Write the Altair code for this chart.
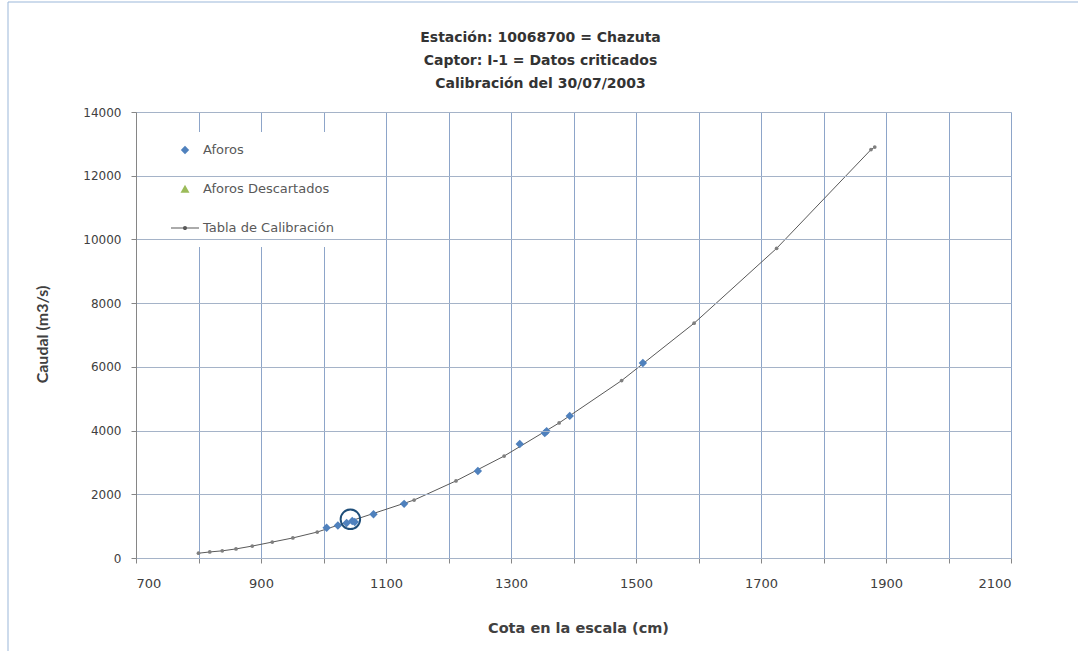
import altair as alt
import pandas as pd

# ---- data ----
calib_cota = [800, 818, 838, 860, 886, 918, 951, 990, 1145, 1212, 1289, 1377, 1477, 1593, 1725, 1876, 1882]
calib_caudal = [150, 190, 225, 285, 375, 500, 630, 815, 1820, 2420, 3200, 4240, 5570, 7370, 9720, 12820, 12900]

aforos_cota = [1005, 1023, 1037, 1046, 1050, 1080, 1129, 1247, 1314, 1354, 1357, 1394, 1511]
aforos_caudal = [950, 1020, 1100, 1160, 1130, 1375, 1700, 2730, 3580, 3920, 3980, 4460, 6120]

circle_cota = [1043]
circle_caudal = [1215]

series = ["Aforos", "Aforos Descartados", "Tabla de Calibración"]
series_colors = ["#4F81BD", "#9BBB59", "#595959"]
diamond_path = "M0,-0.3L0.3,0L0,0.3L-0.3,0Z"
triangle_path = "M0,-0.3L0.32,0.26L-0.32,0.26Z"
line_path = "M-1,-0.04L1,-0.04L1,0.04L-1,0.04ZM-0.15,0A0.15,0.15,0,1,1,0.15,0A0.15,0.15,0,1,1,-0.15,0Z"
series_shapes = [diamond_path, triangle_path, line_path]

x_ticks = list(range(700, 2101, 100))
y_ticks = list(range(0, 14001, 2000))

title_lines = ["Estación: 10068700 = Chazuta", "Captor: I-1 = Datos criticados", "Calibración del 30/07/2003"]

FONT = "DejaVu Sans"
TXT = "#404040"

calib = pd.DataFrame({"cota": calib_cota, "caudal": calib_caudal})
aforos = pd.DataFrame({"cota": aforos_cota, "caudal": aforos_caudal, "serie": "Aforos"})
circ = pd.DataFrame({"cota": circle_cota, "caudal": circle_caudal})

xscale = alt.Scale(domain=[700, 2100], nice=False, zero=False)
yscale = alt.Scale(domain=[0, 14000], nice=False)

xaxis = alt.Axis(
    values=x_ticks, format="d",
    labelExpr="(datum.value - 700) % 200 == 0 ? datum.label : ''",
    grid=True, gridColor="#8DA5C9", gridWidth=1,
    domainColor="#868686", tickColor="#868686", tickSize=5,
    labelPadding=14, labelFont=FONT, labelFontSize=13, labelColor=TXT,
    title="Cota en la escala (cm)", titleFont=FONT, titleFontSize=14.5, titleFontWeight="bold",
    titleColor=TXT, titleX=442, titleY=70, titleAlign="center", titleBaseline="middle",
)
yaxis = alt.Axis(
    values=y_ticks, format="d",
    grid=True, gridColor="#A5B3C8", gridWidth=1, zindex=1,
    domainColor="#868686", tickColor="#868686", tickSize=5,
    labelPadding=10, labelFont=FONT, labelFontSize=12, labelColor=TXT,
    title="Caudal (m3/s)", titleFont="Lato", titleFontSize=16, titleFontWeight="bold",
    titleColor=TXT, titleX=-94, titleY=222, titleAlign="center", titleBaseline="middle",
)

base_x = alt.X("cota:Q", scale=xscale, axis=xaxis)
base_y = alt.Y("caudal:Q", scale=yscale, axis=yaxis)

one = pd.DataFrame({"a": [0]})
frame_top = alt.Chart(one).mark_rule(color="#9BB7D9", strokeWidth=1).encode(
    x=alt.value(-128), x2=alt.value(942), y=alt.value(-110)
)
frame_left = alt.Chart(one).mark_rule(color="#9BB7D9", strokeWidth=1).encode(
    x=alt.value(-128), y=alt.value(-110), y2=alt.value(539)
)
legend_bg = alt.Chart(one).mark_rect(color="white").encode(
    x=alt.value(30), x2=alt.value(215), y=alt.value(20), y2=alt.value(135)
)

legend = alt.Legend(
    title=None, orient="none", legendX=34, legendY=23,
    rowPadding=17, labelOffset=3, padding=0, symbolSize=784,
    labelFont=FONT, labelFontSize=13, labelColor="#595959",
)

calib_line = alt.Chart(calib).mark_line(
    color="#595959", strokeWidth=1,
    point=alt.OverlayMarkDef(filled=True, size=14, color="#7F7F7F", shape="circle"),
).encode(x=base_x, y=base_y)

aforos_pts = alt.Chart(aforos).mark_point(filled=True, opacity=1, size=784).encode(
    x=base_x, y=base_y,
    color=alt.Color("serie:N", scale=alt.Scale(domain=series, range=series_colors), legend=legend),
    shape=alt.Shape("serie:N", scale=alt.Scale(domain=series, range=series_shapes), legend=legend),
)

circle = alt.Chart(circ).mark_point(shape="circle", size=380, filled=False, color="#1F4E79", strokeWidth=2, opacity=1).encode(
    x=base_x, y=base_y
)

chart = alt.layer(frame_top, frame_left, legend_bg, calib_line, aforos_pts, circle).properties(
    width=875, height=446,
    title=alt.TitleParams(text=title_lines, anchor="middle", frame="group", dx=-33, dy=89, offset=0,
                          font=FONT, fontSize=14, fontWeight="bold", color="#333333", lineHeight=23),
    autosize=alt.AutoSizeParams(type="none"),
    padding={"left": 136, "top": 112, "right": 67, "bottom": 93},
).configure_view(stroke=None).configure(background="white")

chart.save("out.html", embed_options={"renderer": "svg", "actions": False})
